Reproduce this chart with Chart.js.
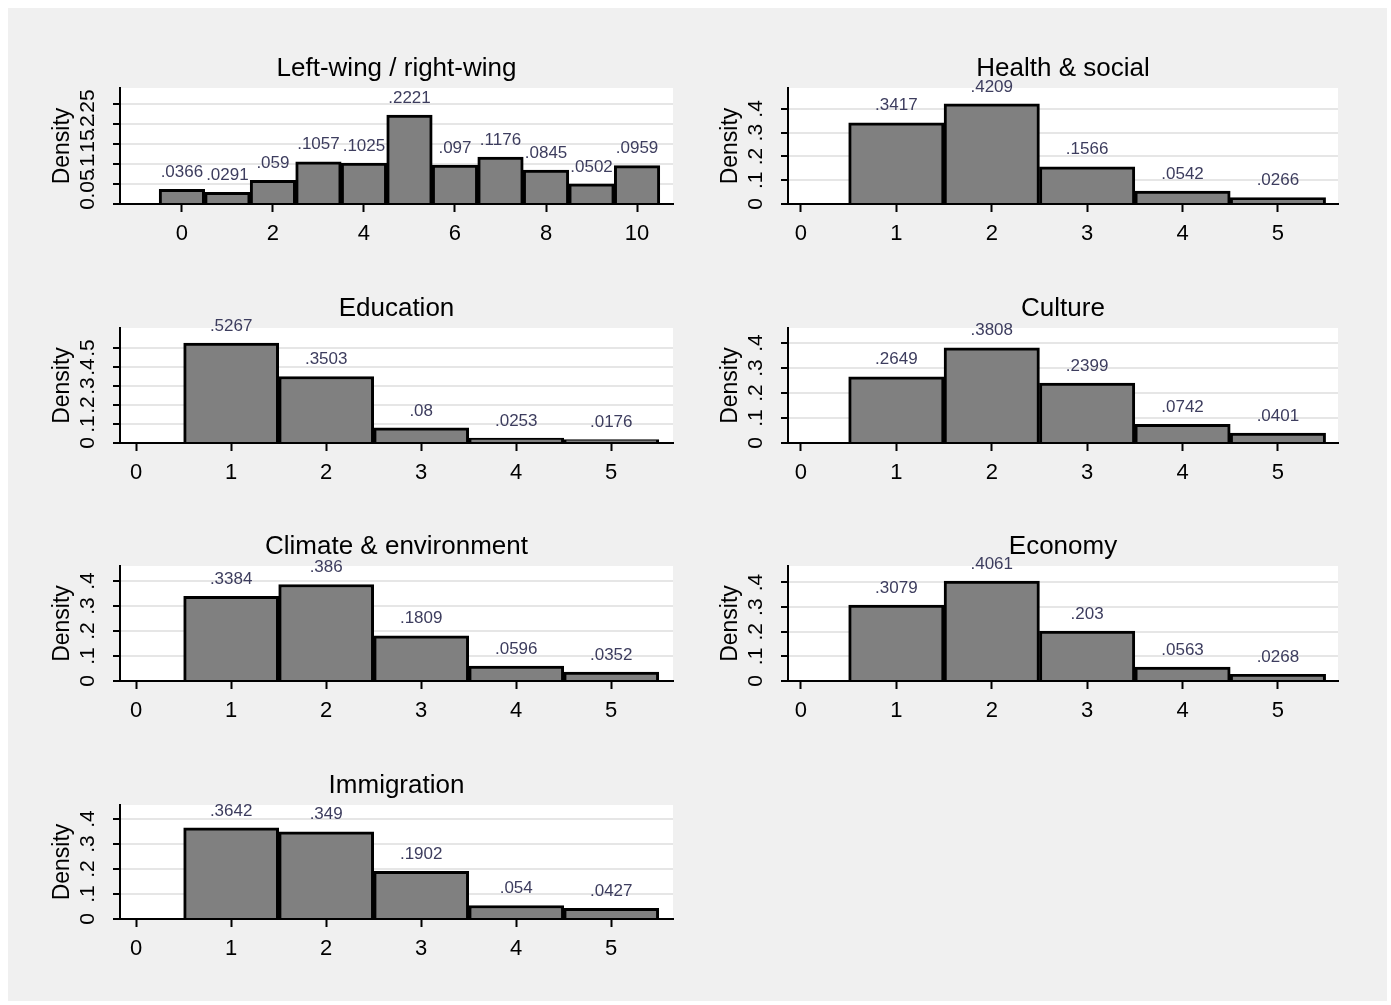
<!DOCTYPE html>
<html>
<head>
<meta charset="utf-8">
<title>Density histograms</title>
<script src="https://cdn.jsdelivr.net/npm/chart.js@4.4.1/dist/chart.umd.min.js"></script>
<style>
  html, body { margin: 0; padding: 0; background: #fff; }
  #frame { position: absolute; left: 8px; top: 8px; width: 1379px; height: 993px; background: #f0f0f0; }
  canvas { position: absolute; }
</style>
</head>
<body>
<div id="frame"></div>
<canvas id="c0"></canvas>
<canvas id="c1"></canvas>
<canvas id="c2"></canvas>
<canvas id="c3"></canvas>
<canvas id="c4"></canvas>
<canvas id="c5"></canvas>
<canvas id="c6"></canvas>
<script>
// ---- data ----
const titles = ['Left-wing / right-wing', 'Health & social', 'Education', 'Culture',
                'Climate & environment', 'Economy', 'Immigration'];

const lrBins = [0, 1, 2, 3, 4, 5, 6, 7, 8, 9, 10];
const lrDensity = [0.0366, 0.0291, 0.059, 0.1057, 0.1025, 0.2221, 0.097, 0.1176, 0.0845, 0.0502, 0.0959];
const lrXTicks = [0, 2, 4, 6, 8, 10];
const lrYTicks = [0, 0.05, 0.1, 0.15, 0.2, 0.25];

const issueBins = [1, 2, 3, 4, 5];
const issueXTicks = [0, 1, 2, 3, 4, 5];
const healthDensity = [0.3417, 0.4209, 0.1566, 0.0542, 0.0266];
const educationDensity = [0.5267, 0.3503, 0.08, 0.0253, 0.0176];
const cultureDensity = [0.2649, 0.3808, 0.2399, 0.0742, 0.0401];
const climateDensity = [0.3384, 0.386, 0.1809, 0.0596, 0.0352];
const economyDensity = [0.3079, 0.4061, 0.203, 0.0563, 0.0268];
const immigrationDensity = [0.3642, 0.349, 0.1902, 0.054, 0.0427];
const issueYTicks = [0, 0.1, 0.2, 0.3, 0.4];
const educationYTicks = [0, 0.1, 0.2, 0.3, 0.4, 0.5];

// ---- layout ----
const FONT = '"Liberation Sans", Arial, Helvetica, sans-serif';
const colLeft = [8, 690], colWidth = [682, 696];
const plotLeft = [120, 788], plotRight = [673, 1338];
const rowTop = [88, 328, 566, 805], rowBottom = [204, 443, 681, 919];
const CANVAS_H = 238, TOP_PAD = 60;

const panels = [
  { title: titles[0], bins: lrBins, dens: lrDensity, xTicks: lrXTicks, yTicks: lrYTicks, xMin: -1.36, xMax: 10.79, yMax: 0.29, col: 0, row: 0 },
  { title: titles[1], bins: issueBins, dens: healthDensity, xTicks: issueXTicks, yTicks: issueYTicks, xMin: -0.136, xMax: 5.63, yMax: 0.488, col: 1, row: 0 },
  { title: titles[2], bins: issueBins, dens: educationDensity, xTicks: issueXTicks, yTicks: educationYTicks, xMin: -0.17, xMax: 5.65, yMax: 0.606, col: 0, row: 1 },
  { title: titles[3], bins: issueBins, dens: cultureDensity, xTicks: issueXTicks, yTicks: issueYTicks, xMin: -0.136, xMax: 5.63, yMax: 0.46, col: 1, row: 1 },
  { title: titles[4], bins: issueBins, dens: climateDensity, xTicks: issueXTicks, yTicks: issueYTicks, xMin: -0.17, xMax: 5.65, yMax: 0.46, col: 0, row: 2 },
  { title: titles[5], bins: issueBins, dens: economyDensity, xTicks: issueXTicks, yTicks: issueYTicks, xMin: -0.136, xMax: 5.63, yMax: 0.467, col: 1, row: 2 },
  { title: titles[6], bins: issueBins, dens: immigrationDensity, xTicks: issueXTicks, yTicks: issueYTicks, xMin: -0.17, xMax: 5.65, yMax: 0.456, col: 0, row: 3 }
];

// Stata style numbers: .0366 instead of 0.0366
const fmt = v => v === 0 ? '0' : String(v).replace(/^0(?=\.)/, '');

const decor = {
  id: 'decor',
  beforeDraw(chart) {
    const { ctx, chartArea: a } = chart;
    ctx.save();
    ctx.fillStyle = '#fff';
    ctx.fillRect(a.left, a.top, a.right - a.left, a.bottom - a.top);
    ctx.restore();
  },
  afterDatasetsDraw(chart) {
    const ctx = chart.ctx;
    const meta = chart.getDatasetMeta(0);
    const vals = chart.data.datasets[0].data;
    ctx.save();
    ctx.font = '17px ' + FONT;
    ctx.fillStyle = '#3d3d5e';
    ctx.textAlign = 'center';
    ctx.textBaseline = 'middle';
    meta.data.forEach((bar, i) => ctx.fillText(fmt(vals[i].y), bar.x, bar.y - 17));
    ctx.restore();
  },
  afterDraw(chart, args, opts) {
    const { ctx, chartArea: a, scales } = chart;
    ctx.save();
    ctx.fillStyle = '#000';
    ctx.textAlign = 'center';
    ctx.textBaseline = 'middle';
    ctx.font = '26px ' + FONT;
    ctx.fillText(opts.title, (a.left + a.right) / 2, a.top - 19);

    // rotated y tick labels
    ctx.font = '21px ' + FONT;
    scales.y.ticks.forEach(t => {
      const y = scales.y.getPixelForValue(t.value);
      ctx.save();
      ctx.translate(a.left - 32, y);
      ctx.rotate(-Math.PI / 2);
      ctx.fillText(fmt(t.value), 0, 0);
      ctx.restore();
    });

    ctx.font = '23px ' + FONT;
    ctx.translate(a.left - 57, (a.top + a.bottom) / 2);
    ctx.rotate(-Math.PI / 2);
    ctx.fillText('Density', 0, 0);
    ctx.restore();
  }
};

panels.forEach((p, i) => {
  const cv = document.getElementById('c' + i);
  const W = colWidth[p.col];
  const top = rowTop[p.row] - TOP_PAD;
  cv.width = W;
  cv.height = CANVAS_H;
  cv.style.left = colLeft[p.col] + 'px';
  cv.style.top = top + 'px';

  const yw = plotLeft[p.col] - colLeft[p.col];
  const padR = W - (plotRight[p.col] - colLeft[p.col]);
  const xh = CANVAS_H - (rowBottom[p.row] - top);

  new Chart(cv, {
    type: 'bar',
    data: {
      datasets: [{
        data: p.bins.map((b, k) => ({ x: b, y: p.dens[k] })),
        backgroundColor: '#808080',
        borderColor: '#000',
        borderWidth: 3,
        barPercentage: 1,
        categoryPercentage: 1
      }]
    },
    options: {
      responsive: false,
      animation: false,
      events: [],
      layout: { padding: { left: 0, right: padR, top: TOP_PAD, bottom: 0 } },
      plugins: {
        legend: { display: false },
        tooltip: { enabled: false },
        decor: { title: p.title }
      },
      scales: {
        x: {
          type: 'linear',
          offset: false,
          min: p.xMin,
          max: p.xMax,
          afterBuildTicks: s => { s.ticks = p.xTicks.map(v => ({ value: v })); },
          afterFit: s => { s.height = xh; },
          grid: { offset: false, drawOnChartArea: false, drawTicks: true, tickLength: 8, tickColor: '#000', tickWidth: 2 },
          border: { color: '#000', width: 2 },
          ticks: { font: { size: 22, family: FONT }, color: '#000', padding: 9, maxRotation: 0, autoSkip: false }
        },
        y: {
          min: 0,
          max: p.yMax,
          afterBuildTicks: s => { s.ticks = p.yTicks.map(v => ({ value: v })); },
          afterFit: s => { s.width = yw; },
          grid: {
            color: c => (c.tick && c.tick.value === 0) ? 'rgba(0,0,0,0)' : '#e6e6e6',
            lineWidth: 2,
            tickLength: 7,
            tickColor: '#000',
            tickWidth: 2
          },
          border: { color: '#000', width: 2 },
          ticks: { display: false }
        }
      }
    },
    plugins: [decor]
  });
});
</script>
</body>
</html>
